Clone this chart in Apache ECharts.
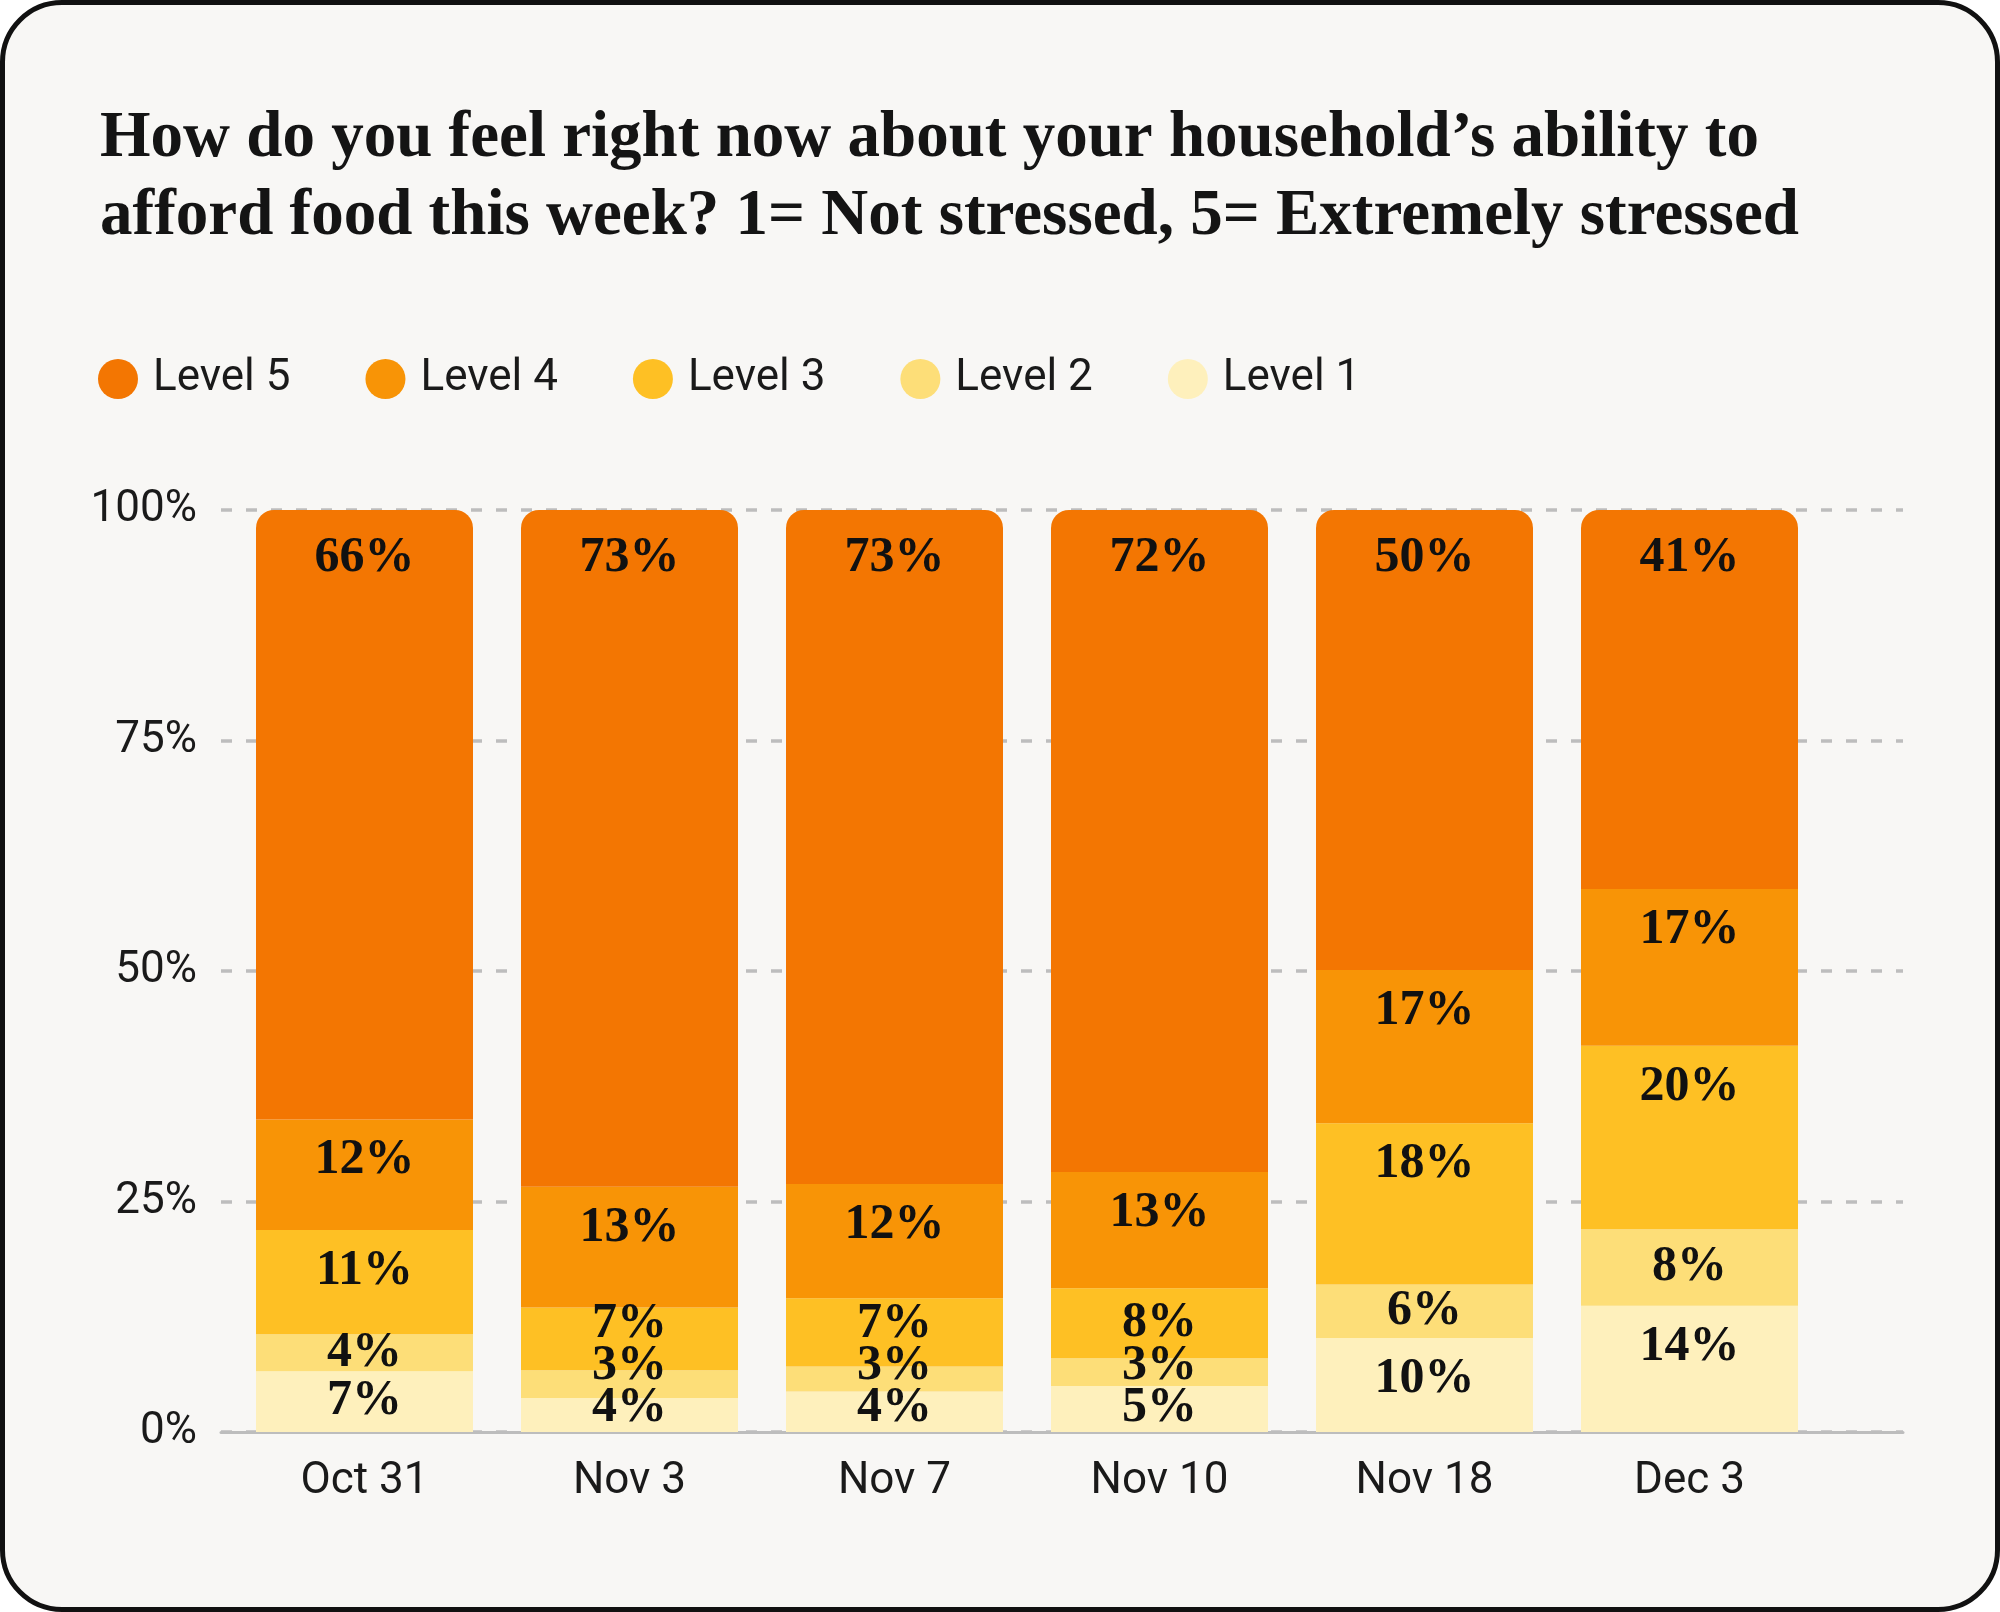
<!DOCTYPE html>
<html><head><meta charset="utf-8">
<script src="https://cdn.jsdelivr.net/npm/echarts@6/dist/echarts.min.js"></script>
<style>
html,body{margin:0;padding:0;background:#fff;}
#card{position:absolute;left:0;top:0;width:2000px;height:1612px;box-sizing:border-box;border:5px solid #111;border-radius:62px;background:#F8F7F5;}
#chart{position:absolute;left:0;top:0;width:2000px;height:1612px;}
</style></head><body>
<div id="card"></div><div id="chart"></div>
<script>
const categories = ['Oct 31', 'Nov 3', 'Nov 7', 'Nov 10', 'Nov 18', 'Dec 3'];
const seriesNames = ['Level 1', 'Level 2', 'Level 3', 'Level 4', 'Level 5'];
const legendOrder = ['Level 5', 'Level 4', 'Level 3', 'Level 2', 'Level 1'];
const level5 = [66.1, 73.4, 73.1, 71.8, 49.9, 41.1];
const level4 = [12.0, 13.1, 12.4, 12.6, 16.6, 17.0];
const level3 = [11.3, 6.8, 7.4, 7.6, 17.5, 19.9];
const level2 = [4.0, 3.0, 2.7, 3.0, 5.8, 8.3];
const level1 = [6.6, 3.7, 4.4, 5.0, 10.2, 13.7];
const yTicks = [0, 25, 50, 75, 100];
const colors = ['#FEF0BC', '#FDDE78', '#FEC024', '#F89406', '#F37602'];

const levels = [level1, level2, level3, level4, level5];
const LABEL_DROP = 41, TOP_DROP = 48, LABEL_GAP = 42, BOTTOM_PAD = 24;
function labelPos(p) {
  const s = p.seriesIndex, d = p.dataIndex;
  const unit = p.rect.height / levels[s][d];
  let below = 0;
  for (let k = 0; k < s; k++) below += levels[k][d];
  const base = p.rect.y + p.rect.height + below * unit;
  let acc = 0, prev = Infinity, c = 0;
  for (let k = 0; k <= s; k++) {
    const h = levels[k][d] * unit;
    const top = base - (acc + levels[k][d]) * unit;
    const drop = k === levels.length - 1 ? TOP_DROP : LABEL_DROP;
    let ck = top + Math.min(drop, h / 2);
    if (k === 0) ck = Math.min(ck, base - BOTTOM_PAD);
    ck = Math.min(ck, prev - LABEL_GAP);
    prev = ck; acc += levels[k][d]; c = ck;
  }
  return { x: p.rect.x + p.rect.width / 2, y: c, align: 'center', verticalAlign: 'middle' };
}

const sans = 'Roboto';
const serif = 'Liberation Serif';
const chart = echarts.init(document.getElementById('chart'), null, { renderer: 'canvas' });
const option = {
  backgroundColor: 'transparent',
  animation: false,
  title: {
    text: 'How do you feel right now about your household\u2019s ability to\nafford food this week? 1= Not stressed, 5= Extremely stressed',
    left: 95, top: 95,
    textStyle: { fontFamily: serif, fontWeight: 'bold', fontSize: 65, lineHeight: 78, color: '#141414' }
  },
  legend: {
    data: legendOrder,
    left: 93, top: 352,
    icon: 'circle', itemWidth: 40, itemHeight: 40, itemGap: 75,
    textStyle: { fontFamily: sans, fontSize: 44, color: '#1a1a1a', padding: [0, 0, 0, 10] }
  },
  grid: [
    { left: 221, right: 97, top: 510, bottom: 180, outerBoundsMode: 'none' },
    { left: 232, right: 178, top: 510, bottom: 180, outerBoundsMode: 'none' }
  ],
  xAxis: [
    { gridIndex: 0, type: 'category', data: categories,
      axisLine: { lineStyle: { color: '#BDBDBD', width: 3 } }, axisTick: { show: false }, axisLabel: { show: false } },
    { gridIndex: 1, type: 'category', data: categories,
      axisLine: { show: false }, axisTick: { show: false },
      axisLabel: { fontFamily: sans, fontSize: 44, color: '#1a1a1a', margin: 28 } }
  ],
  yAxis: [
    { gridIndex: 0, type: 'value', min: yTicks[0], max: yTicks[yTicks.length - 1], interval: yTicks[1] - yTicks[0],
      axisLine: { show: false }, axisTick: { show: false },
      axisLabel: { formatter: '{value}%', fontFamily: sans, fontSize: 44, color: '#1a1a1a', margin: 24 },
      splitLine: { lineStyle: { type: [11, 14], color: '#BDBDBD', width: 3.5 } } },
    { gridIndex: 1, type: 'value', min: yTicks[0], max: yTicks[yTicks.length - 1], show: false, splitLine: { show: false } }
  ],
  series: seriesNames.map((name, i) => ({
    name: name,
    type: 'bar',
    xAxisIndex: 1, yAxisIndex: 1,
    stack: 'total',
    barWidth: 217,
    data: levels[i],
    itemStyle: { color: colors[i], borderRadius: i === 4 ? [18, 18, 0, 0] : 0 },
    label: {
      show: true, position: 'inside',
      formatter: p => Math.round(p.value) + '%',
      fontFamily: serif, fontWeight: 'bold', fontSize: 50, color: '#111'
    },
    labelLayout: labelPos
  }))
};
chart.setOption(option);
</script>
</body></html>
